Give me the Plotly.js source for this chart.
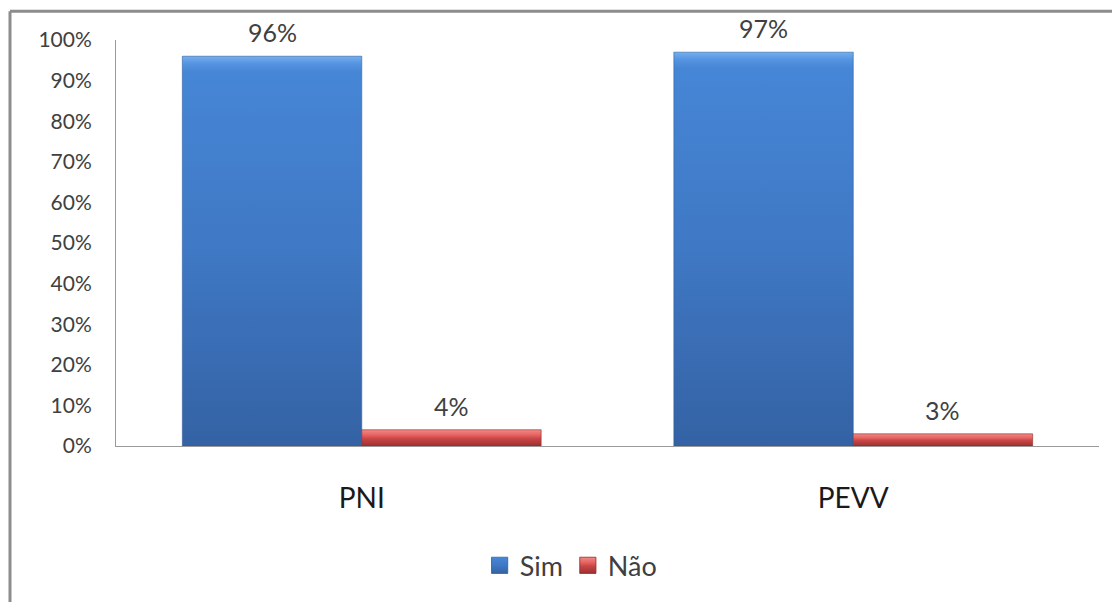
<!DOCTYPE html>
<html>
<head>
<meta charset="utf-8">
<script src="https://cdn.plot.ly/plotly-3.0.1.min.js"></script>
<style>
  html, body { margin: 0; padding: 0; background: #ffffff; }
  #chart { width: 1112px; height: 602px; }
</style>
</head>
<body>
<div id="chart"></div>
<script>
// Categories and series values (share of answers, in %)
const categories = ['PNI', 'PEVV'];
const seriesNames = ['Sim', 'Não'];
const simValues = [96, 97];
const naoValues = [4, 3];
const yTickValues = [0, 10, 20, 30, 40, 50, 60, 70, 80, 90, 100];
const yTickLabels = ['0%', '10%', '20%', '30%', '40%', '50%', '60%', '70%', '80%', '90%', '100%'];

const FONT = 'Lato, "Open Sans", sans-serif';
const TEXT_COLOR = '#404040';
const BAR_GAP = 0.27;

const traces = [
  {
    type: 'bar', name: seriesNames[0], x: categories, y: simValues,
    marker: { color: '#3f7cc8', line: { color: '#2f5d9c', width: 0.6 } },
    hoverinfo: 'skip'
  },
  {
    type: 'bar', name: seriesNames[1], x: categories, y: naoValues,
    marker: { color: '#c84444', line: { color: '#8e2a2a', width: 0.6 } },
    hoverinfo: 'skip'
  }
];

// Value labels above each bar; bars in a group sit at ±1/4 of the group width
const barOffset = (1 - BAR_GAP) / 4;
const valueLabels = [];
[simValues, naoValues].forEach((vals, s) => {
  vals.forEach((v, i) => {
    valueLabels.push({
      x: i + (s === 0 ? -barOffset : barOffset), y: v,
      xref: 'x', yref: 'y', text: v + '%', showarrow: false,
      yanchor: 'bottom', yshift: 7,
      font: { family: FONT, size: 25, color: TEXT_COLOR }
    });
  });
});

// Outer chart frame (left and top edges), in paper units relative to the plot area
const PLOT_W = 983, PLOT_H = 409;
const frameX = (10 - 116) / PLOT_W;
const frameY = (449 - 11) / PLOT_H;

const layout = {
  width: 1112, height: 602,
  margin: { l: 116, r: 13, t: 40, b: 153 },
  paper_bgcolor: '#ffffff', plot_bgcolor: '#ffffff',
  barmode: 'group', bargap: BAR_GAP, bargroupgap: 0,
  showlegend: true,
  legend: {
    orientation: 'h', x: 0.463, xanchor: 'center', y: -0.295, yanchor: 'middle',
    font: { family: FONT, size: 27, color: TEXT_COLOR },
    itemwidth: 30, traceorder: 'normal'
  },
  xaxis: {
    type: 'category', showgrid: false, zeroline: false,
    showline: true, linecolor: '#9a9a9a', linewidth: 1,
    ticks: '', ticklabelstandoff: 27,
    tickfont: { family: FONT, size: 28, color: '#1a1a1a' }
  },
  yaxis: {
    range: [0, 100], tickvals: yTickValues, ticktext: yTickLabels,
    showgrid: false, zeroline: false,
    showline: true, linecolor: '#9a9a9a', linewidth: 1,
    ticks: '', ticklabelstandoff: 19,
    tickfont: { family: FONT, size: 21, color: TEXT_COLOR }
  },
  annotations: valueLabels,
  shapes: [
    { type: 'line', xref: 'paper', yref: 'paper', x0: frameX, x1: frameX, y0: -0.5, y1: frameY,
      line: { color: '#8c8c8c', width: 3 } },
    { type: 'line', xref: 'paper', yref: 'paper', x0: frameX, x1: 1.1, y0: frameY, y1: frameY,
      line: { color: '#8c8c8c', width: 3 } }
  ]
};

// Vertical shading for the bars and legend swatches
function addGradients(gd) {
  const svg = gd.querySelector('svg.main-svg');
  const ns = 'http://www.w3.org/2000/svg';
  let defs = svg.querySelector('defs');
  if (!defs) { defs = document.createElementNS(ns, 'defs'); svg.insertBefore(defs, svg.firstChild); }
  const grads = {
    gradSim: [[0, '#74aef0'], [0.02, '#5593e0'], [0.04, '#4686d6'], [0.5, '#3f78c4'], [1, '#3462a4']],
    gradNao: [[0, '#f28a88'], [0.3, '#e86664'], [0.55, '#c84646'], [1, '#9e3030']]
  };
  Object.keys(grads).forEach(id => {
    const g = document.createElementNS(ns, 'linearGradient');
    g.setAttribute('id', id);
    g.setAttribute('x1', '0'); g.setAttribute('y1', '0');
    g.setAttribute('x2', '0'); g.setAttribute('y2', '1');
    grads[id].forEach(([o, c]) => {
      const s = document.createElementNS(ns, 'stop');
      s.setAttribute('offset', o); s.setAttribute('stop-color', c);
      g.appendChild(s);
    });
    defs.appendChild(g);
  });
  const ids = ['gradSim', 'gradNao'];
  gd.querySelectorAll('.barlayer .trace').forEach((tr, i) => {
    tr.querySelectorAll('.point path').forEach(p => { p.style.fill = 'url(#' + ids[i] + ')'; });
  });
  gd.querySelectorAll('.legend .traces').forEach((tr, i) => {
    tr.querySelectorAll('.legendpoints path').forEach(p => {
      p.style.fill = 'url(#' + ids[i] + ')';
      p.setAttribute('transform', (p.getAttribute('transform') || '') + ' scale(1.35)');
    });
  });
}

Plotly.newPlot('chart', traces, layout, { staticPlot: true, displayModeBar: false })
  .then(addGradients);
</script>
</body>
</html>
